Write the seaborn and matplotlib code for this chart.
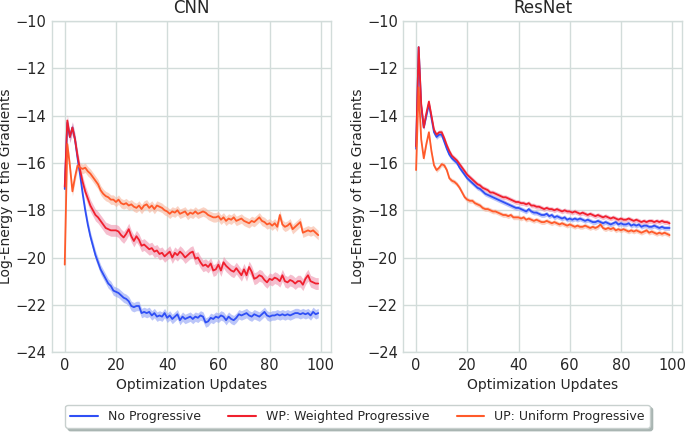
import numpy as np
import pandas as pd
import matplotlib
matplotlib.use('Agg')
import matplotlib.pyplot as plt
import seaborn as sns

steps = list(range(100))
labels = ['No Progressive', 'WP: Weighted Progressive', 'UP: Uniform Progressive']
colors = ['#2f4ff5', '#f0202e', '#ff5a2a']
band_colors = ['#8fa0f5', '#ef93ae', '#f8b49c']

# CNN curves
cnn_np = [-17.1, -14.3, -14.9, -14.5, -15.0, -15.8, -16.5, -17.3, -18.0, -18.6,
          -19.1, -19.5, -19.9, -20.2, -20.5, -20.7, -20.9, -21.1, -21.2, -21.4,
          -21.45, -21.5, -21.6, -21.7, -21.75, -21.85, -22.05, -22.1, -22.05, -22.05,
          -22.35, -22.3, -22.35, -22.3, -22.45, -22.35, -22.5, -22.45, -22.5, -22.35,
          -22.55, -22.45, -22.6, -22.5, -22.4, -22.65, -22.5, -22.6, -22.55, -22.5,
          -22.6, -22.5, -22.55, -22.45, -22.5, -22.75, -22.7, -22.55, -22.6, -22.5,
          -22.55, -22.45, -22.5, -22.65, -22.5, -22.6, -22.65, -22.55, -22.4, -22.45,
          -22.4, -22.35, -22.45, -22.5, -22.4, -22.45, -22.5, -22.4, -22.3, -22.45,
          -22.5, -22.45, -22.45, -22.4, -22.45, -22.4, -22.45, -22.4, -22.45, -22.4,
          -22.35, -22.35, -22.4, -22.35, -22.4, -22.35, -22.45, -22.3, -22.4, -22.35]
cnn_wp = [-17.0, -14.2, -14.9, -14.5, -15.0, -15.7, -16.3, -16.8, -17.2, -17.5,
          -17.8, -18.0, -18.2, -18.3, -18.45, -18.6, -18.75, -18.8, -18.85, -18.85,
          -18.85, -18.9, -19.05, -19.15, -19.0, -18.8, -19.1, -19.3, -19.1, -19.25,
          -19.5, -19.45, -19.55, -19.65, -19.6, -19.75, -19.7, -19.85, -19.8, -19.95,
          -19.85, -19.75, -20.0, -19.8, -19.9, -19.75, -19.85, -20.0, -19.9, -19.8,
          -19.75, -20.05, -20.0, -20.2, -20.35, -20.3, -20.4, -20.25, -20.55, -20.5,
          -20.3, -20.55, -20.2, -20.35, -20.45, -20.55, -20.6, -20.45, -20.6, -20.75,
          -20.5, -20.75, -20.4, -20.6, -20.9, -20.85, -20.75, -20.8, -20.95, -21.05,
          -20.9, -20.95, -20.85, -20.9, -21.0, -20.75, -21.0, -21.05, -20.95, -21.0,
          -21.1, -21.0, -21.0, -21.15, -20.9, -20.75, -21.0, -21.05, -21.1, -21.1]
cnn_up = [-20.3, -15.2, -16.1, -17.2, -16.6, -16.1, -16.2, -16.25, -16.2, -16.35,
          -16.45, -16.6, -16.75, -16.9, -17.15, -17.3, -17.4, -17.45, -17.55, -17.55,
          -17.65, -17.55, -17.7, -17.75, -17.7, -17.8, -17.75, -17.85, -17.9, -17.8,
          -17.95, -17.8, -17.75, -17.9, -17.8, -17.95, -17.8, -17.85, -17.9, -18.0,
          -18.05, -18.15, -18.05, -18.1, -18.0, -18.15, -18.1, -18.05, -18.2, -18.1,
          -18.15, -18.05, -18.15, -18.1, -18.05, -18.1, -18.2, -18.25, -18.3, -18.3,
          -18.25, -18.4, -18.3, -18.45, -18.35, -18.4, -18.3, -18.45, -18.4, -18.35,
          -18.45, -18.5, -18.55, -18.45, -18.5, -18.4, -18.3, -18.45, -18.5, -18.6,
          -18.55, -18.65, -18.55, -18.7, -18.2, -18.6, -18.7, -18.65, -18.55, -18.8,
          -18.7, -18.6, -18.5, -18.95, -18.9, -18.85, -18.9, -18.85, -18.95, -19.05]

# ResNet curves
res_np = [-15.4, -11.1, -13.6, -14.5, -14.0, -13.5, -14.1, -14.7, -14.9, -14.8,
          -14.8, -15.1, -15.4, -15.65, -15.8, -15.9, -16.0, -16.2, -16.35, -16.5,
          -16.65, -16.75, -16.85, -16.95, -17.05, -17.1, -17.2, -17.3, -17.35, -17.4,
          -17.45, -17.5, -17.55, -17.6, -17.65, -17.7, -17.75, -17.8, -17.85, -17.9,
          -17.9, -17.95, -18.0, -18.05, -17.95, -18.05, -18.1, -18.1, -18.15, -18.2,
          -18.2, -18.15, -18.25, -18.2, -18.3, -18.25, -18.3, -18.35, -18.3, -18.4,
          -18.35, -18.4, -18.35, -18.4, -18.35, -18.4, -18.45, -18.4, -18.45, -18.5,
          -18.5, -18.45, -18.5, -18.55, -18.5, -18.55, -18.6, -18.55, -18.5, -18.6,
          -18.55, -18.6, -18.6, -18.55, -18.65, -18.6, -18.65, -18.6, -18.7, -18.65,
          -18.65, -18.7, -18.7, -18.65, -18.7, -18.75, -18.7, -18.75, -18.75, -18.75]
res_wp = [-15.3, -11.1, -13.5, -14.5, -13.9, -13.4, -14.0, -14.6, -14.8, -14.7,
          -14.7, -14.95, -15.25, -15.5, -15.7, -15.8, -15.9, -16.05, -16.2, -16.35,
          -16.5, -16.6, -16.7, -16.8, -16.9, -16.95, -17.05, -17.1, -17.15, -17.25,
          -17.25, -17.3, -17.35, -17.4, -17.45, -17.45, -17.5, -17.55, -17.6, -17.65,
          -17.65, -17.7, -17.7, -17.75, -17.7, -17.8, -17.8, -17.85, -17.85, -17.9,
          -17.95, -17.9, -17.95, -17.95, -18.0, -17.95, -18.0, -18.05, -18.0, -18.05,
          -18.05, -18.1, -18.05, -18.1, -18.15, -18.1, -18.15, -18.2, -18.15, -18.2,
          -18.25, -18.2, -18.25, -18.3, -18.25, -18.3, -18.35, -18.3, -18.35, -18.4,
          -18.35, -18.4, -18.4, -18.35, -18.4, -18.45, -18.4, -18.45, -18.5, -18.45,
          -18.5, -18.45, -18.45, -18.5, -18.45, -18.5, -18.45, -18.5, -18.5, -18.55]
res_up = [-16.3, -12.8, -15.0, -15.8, -15.2, -14.7, -15.5, -16.1, -16.3, -16.2,
          -16.05, -16.1, -16.3, -16.65, -16.75, -16.8, -16.9, -17.05, -17.25, -17.45,
          -17.55, -17.6, -17.6, -17.7, -17.75, -17.8, -17.9, -17.95, -17.95, -18.0,
          -18.05, -18.05, -18.1, -18.15, -18.2, -18.2, -18.25, -18.2, -18.3, -18.3,
          -18.3, -18.35, -18.3, -18.4, -18.35, -18.4, -18.45, -18.4, -18.45, -18.5,
          -18.5, -18.45, -18.5, -18.55, -18.5, -18.55, -18.6, -18.55, -18.6, -18.65,
          -18.6, -18.65, -18.7, -18.65, -18.7, -18.7, -18.65, -18.7, -18.75, -18.7,
          -18.75, -18.7, -18.6, -18.75, -18.8, -18.75, -18.8, -18.75, -18.85, -18.8,
          -18.85, -18.8, -18.85, -18.9, -18.85, -18.9, -18.85, -18.9, -18.95, -18.9,
          -18.85, -18.95, -18.9, -18.95, -19.0, -18.95, -19.0, -18.95, -19.0, -19.05]

# half width of the shaded band
cnn_band = [0.2, 0.25, 0.2]
res_band = [0.1, 0.1, 0.1]

sns.set_style('whitegrid')
plt.rcParams['font.family'] = ['DejaVu Sans']
grid_col = '#d2dcda'

fig, axes = plt.subplots(1, 2, figsize=(6.85, 4.32), dpi=100)

panels = [('CNN', [cnn_np, cnn_wp, cnn_up], cnn_band),
          ('ResNet', [res_np, res_wp, res_up], res_band)]

for ax, (title, series, band) in zip(axes, panels):
    rows = []
    for lab, vals in zip(labels, series):
        rows.append(pd.DataFrame({'step': steps, 'value': vals, 'method': lab}))
    df = pd.concat(rows)
    for lab, vals, w, bc in zip(labels, series, band, band_colors):
        v = np.array(vals)
        ax.fill_between(steps, v - w, v + w, color=bc, alpha=0.6, lw=0)
    sns.lineplot(data=df, x='step', y='value', hue='method', palette=colors,
                 hue_order=labels, lw=1.3, ax=ax, legend=False)
    ax.set_title(title, fontsize=12)
    ax.set_xlabel('Optimization Updates', fontsize=10)
    ax.set_ylabel('Log-Energy of the Gradients', fontsize=10, labelpad=1.5)
    ax.set_ylim(-24, -10)
    ax.set_yticks([-24, -22, -20, -18, -16, -14, -12, -10])
    ax.set_xticks([0, 20, 40, 60, 80, 100])
    ax.tick_params(labelsize=10.5, length=0, pad=4)
    ax.grid(color=grid_col, lw=1)
    for s in ax.spines.values():
        s.set_color(grid_col)
        s.set_linewidth(1)

handles = [plt.Line2D([], [], color=c, lw=1.5) for c in colors]
fig.legend(handles, labels, loc='lower center', ncol=3, bbox_to_anchor=(0.522, -0.005),
           fontsize=9, frameon=True, shadow={'color': '#a9b5b2', 'alpha': 1},
           edgecolor='#c8d0ce', fancybox=True, framealpha=1,
           columnspacing=2.2, handlelength=2.2)

plt.subplots_adjust(left=0.076, right=0.996, top=0.951, bottom=0.185, wspace=0.26)
plt.savefig('out.png', dpi=100)
